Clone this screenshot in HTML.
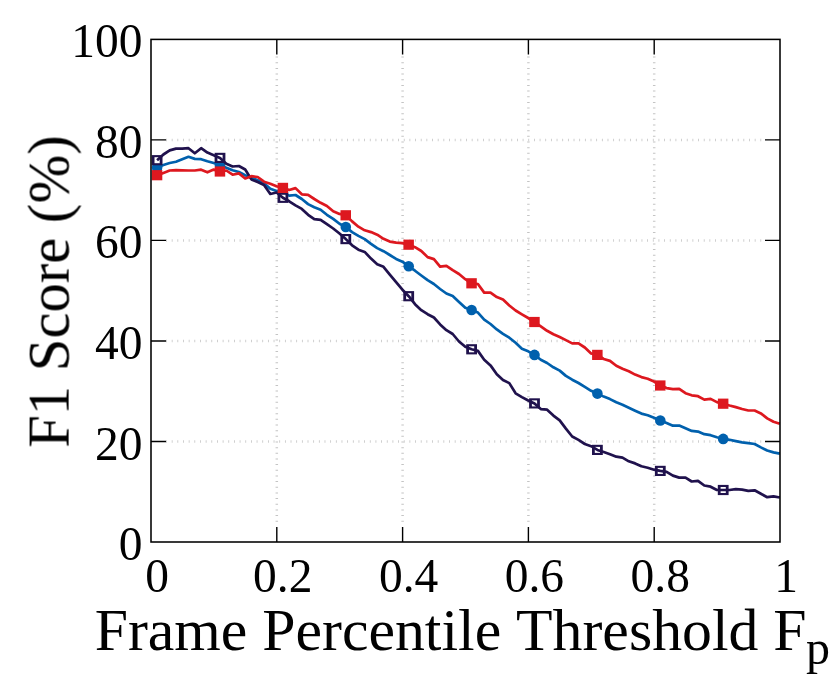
<!DOCTYPE html>
<html><head><meta charset="utf-8"><title>F1 Score vs Frame Percentile Threshold</title>
<style>
html,body{margin:0;padding:0;background:#fff;}
body{width:830px;height:700px;overflow:hidden;position:relative;font-family:"Liberation Serif",serif;}
</style></head><body>
<svg width="830" height="700" viewBox="0 0 830 700" style="position:absolute;left:0;top:0">
<rect width="830" height="700" fill="#fff"/>
<line x1="166.1" y1="441.5" x2="764.0" y2="441.5" stroke="#c4c4c4" stroke-width="2.5" stroke-dasharray="0.8 4.86"/>
<line x1="166.1" y1="341.0" x2="764.0" y2="341.0" stroke="#c4c4c4" stroke-width="2.5" stroke-dasharray="0.8 4.86"/>
<line x1="166.1" y1="240.4" x2="764.0" y2="240.4" stroke="#c4c4c4" stroke-width="2.5" stroke-dasharray="0.8 4.86"/>
<line x1="166.1" y1="139.9" x2="764.0" y2="139.9" stroke="#c4c4c4" stroke-width="2.5" stroke-dasharray="0.8 4.86"/>
<line x1="276.8" y1="56.6" x2="276.8" y2="526.0" stroke="#c4c4c4" stroke-width="2.5" stroke-dasharray="1 4.66"/>
<line x1="402.6" y1="56.6" x2="402.6" y2="526.0" stroke="#c4c4c4" stroke-width="2.5" stroke-dasharray="1 4.66"/>
<line x1="528.4" y1="56.6" x2="528.4" y2="526.0" stroke="#c4c4c4" stroke-width="2.5" stroke-dasharray="1 4.66"/>
<line x1="654.2" y1="56.6" x2="654.2" y2="526.0" stroke="#c4c4c4" stroke-width="2.5" stroke-dasharray="1 4.66"/>
<path d="M151.0,441.5h15M780.0,441.5h-15" stroke="#000" stroke-width="1.4"/>
<path d="M151.0,341.0h15M780.0,341.0h-15" stroke="#000" stroke-width="1.4"/>
<path d="M151.0,240.4h15M780.0,240.4h-15" stroke="#000" stroke-width="1.4"/>
<path d="M151.0,139.9h15M780.0,139.9h-15" stroke="#000" stroke-width="1.4"/>
<path d="M276.8,542.0v-15M276.8,39.4v15" stroke="#000" stroke-width="1.4"/>
<path d="M402.6,542.0v-15M402.6,39.4v15" stroke="#000" stroke-width="1.4"/>
<path d="M528.4,542.0v-15M528.4,39.4v15" stroke="#000" stroke-width="1.4"/>
<path d="M654.2,542.0v-15M654.2,39.4v15" stroke="#000" stroke-width="1.4"/>
<path d="M157.1,167.5 L163.4,165.0 L169.7,163.0 L176.0,161.7 L182.2,159.2 L188.5,156.8 L194.8,158.9 L201.1,159.2 L207.4,161.2 L213.7,163.0 L220.0,165.2 L226.3,167.7 L232.6,170.3 L238.9,172.0 L245.2,175.2 L251.4,177.8 L257.7,180.2 L264.0,183.3 L270.3,188.7 L276.6,190.9 L282.9,192.6 L289.2,195.6 L295.5,195.0 L301.8,199.0 L308.1,204.1 L314.3,207.2 L320.6,209.7 L326.9,214.8 L333.2,218.9 L339.5,223.8 L345.8,227.0 L352.1,232.1 L358.4,235.9 L364.7,239.1 L371.0,243.8 L377.2,248.1 L383.5,251.2 L389.8,255.0 L396.1,258.9 L402.4,261.7 L408.7,266.3 L415.0,270.7 L421.3,275.5 L427.6,280.2 L433.9,284.0 L440.1,289.0 L446.4,293.5 L452.7,296.0 L459.0,301.9 L465.3,307.7 L471.6,310.0 L477.9,312.6 L484.2,319.7 L490.5,324.0 L496.8,329.4 L503.0,333.8 L509.3,337.7 L515.6,342.8 L521.9,348.8 L528.2,351.3 L534.5,354.9 L540.8,359.8 L547.1,363.0 L553.4,367.3 L559.7,370.6 L565.9,375.9 L572.2,379.7 L578.5,383.0 L584.8,386.9 L591.1,390.8 L597.4,393.6 L603.7,396.6 L610.0,399.1 L616.3,402.3 L622.5,404.8 L628.8,407.7 L635.1,410.7 L641.4,413.6 L647.7,415.2 L654.0,417.7 L660.3,420.5 L666.6,423.0 L672.9,425.7 L679.2,425.5 L685.5,428.3 L691.7,430.9 L698.0,431.6 L704.3,434.2 L710.6,435.2 L716.9,437.3 L723.2,438.9 L729.5,439.8 L735.8,441.1 L742.1,442.3 L748.3,443.2 L754.6,444.0 L760.9,447.4 L767.2,450.5 L773.5,452.4 L779.8,453.6" fill="none" stroke="#0060ad" stroke-width="2.7" stroke-linejoin="round"/>
<circle cx="157.1" cy="167.5" r="5.3" fill="#0060ad"/>
<circle cx="220.0" cy="165.2" r="5.3" fill="#0060ad"/>
<circle cx="282.9" cy="192.6" r="5.3" fill="#0060ad"/>
<circle cx="345.8" cy="227.0" r="5.3" fill="#0060ad"/>
<circle cx="408.7" cy="266.3" r="5.3" fill="#0060ad"/>
<circle cx="471.6" cy="310.0" r="5.3" fill="#0060ad"/>
<circle cx="534.5" cy="354.9" r="5.3" fill="#0060ad"/>
<circle cx="597.4" cy="393.6" r="5.3" fill="#0060ad"/>
<circle cx="660.3" cy="420.5" r="5.3" fill="#0060ad"/>
<circle cx="723.2" cy="438.9" r="5.3" fill="#0060ad"/>
<rect x="151.7" y="155.1" width="10.8" height="10.2" fill="#20124d"/><rect x="154.5" y="157.2" width="5.2" height="6" fill="#fff"/>
<rect x="214.6" y="152.8" width="10.8" height="10.2" fill="#20124d"/><rect x="217.4" y="154.9" width="5.2" height="6" fill="#fff"/>
<rect x="277.5" y="192.7" width="10.8" height="10.2" fill="#20124d"/><rect x="280.3" y="194.8" width="5.2" height="6" fill="#fff"/>
<rect x="340.4" y="234.0" width="10.8" height="10.2" fill="#20124d"/><rect x="343.2" y="236.1" width="5.2" height="6" fill="#fff"/>
<rect x="403.3" y="291.1" width="10.8" height="10.2" fill="#20124d"/><rect x="406.1" y="293.2" width="5.2" height="6" fill="#fff"/>
<rect x="466.2" y="344.2" width="10.8" height="10.2" fill="#20124d"/><rect x="469.0" y="346.3" width="5.2" height="6" fill="#fff"/>
<rect x="529.1" y="398.3" width="10.8" height="10.2" fill="#20124d"/><rect x="531.9" y="400.4" width="5.2" height="6" fill="#fff"/>
<rect x="592.0" y="444.8" width="10.8" height="10.2" fill="#20124d"/><rect x="594.8" y="446.9" width="5.2" height="6" fill="#fff"/>
<rect x="654.9" y="465.8" width="10.8" height="10.2" fill="#20124d"/><rect x="657.7" y="467.9" width="5.2" height="6" fill="#fff"/>
<rect x="717.8" y="484.9" width="10.8" height="10.2" fill="#20124d"/><rect x="720.6" y="487.0" width="5.2" height="6" fill="#fff"/>
<path d="M157.1,160.2 L163.4,154.5 L169.7,150.4 L176.0,148.6 L182.2,148.6 L188.5,148.2 L194.8,153.3 L201.1,148.2 L207.4,152.6 L213.7,155.2 L220.0,157.9 L226.3,163.7 L232.6,166.5 L238.9,166.0 L245.2,169.5 L251.4,179.4 L257.7,182.1 L264.0,185.0 L270.3,194.0 L276.6,192.5 L282.9,197.8 L289.2,201.3 L295.5,205.3 L301.8,208.9 L308.1,214.8 L314.3,219.2 L320.6,219.8 L326.9,224.2 L333.2,228.5 L339.5,233.5 L345.8,239.1 L352.1,245.3 L358.4,249.7 L364.7,251.9 L371.0,258.6 L377.2,264.2 L383.5,266.8 L389.8,274.6 L396.1,282.1 L402.4,289.7 L408.7,296.2 L415.0,304.2 L421.3,310.2 L427.6,314.2 L433.9,317.5 L440.1,324.4 L446.4,330.2 L452.7,334.0 L459.0,341.5 L465.3,346.8 L471.6,349.3 L477.9,350.9 L484.2,359.7 L490.5,365.4 L496.8,374.2 L503.0,380.0 L509.3,383.1 L515.6,393.3 L521.9,397.1 L528.2,400.5 L534.5,403.4 L540.8,409.1 L547.1,409.7 L553.4,415.6 L559.7,420.4 L565.9,428.6 L572.2,436.5 L578.5,439.9 L584.8,444.0 L591.1,446.2 L597.4,449.9 L603.7,452.1 L610.0,454.2 L616.3,456.7 L622.5,457.7 L628.8,461.3 L635.1,463.4 L641.4,466.3 L647.7,467.8 L654.0,469.7 L660.3,470.9 L666.6,471.8 L672.9,475.6 L679.2,477.6 L685.5,477.6 L691.7,481.5 L698.0,480.8 L704.3,485.5 L710.6,486.7 L716.9,490.0 L723.2,490.0 L729.5,490.0 L735.8,489.2 L742.1,489.6 L748.3,490.9 L754.6,490.3 L760.9,493.8 L767.2,497.2 L773.5,496.3 L779.8,497.5" fill="none" stroke="#20124d" stroke-width="2.7" stroke-linejoin="round"/>
<path d="M157.1,175.2 L163.4,172.9 L169.7,170.5 L176.0,170.2 L182.2,170.3 L188.5,170.5 L194.8,170.5 L201.1,169.7 L207.4,172.3 L213.7,169.6 L220.0,171.5 L226.3,170.5 L232.6,174.7 L238.9,173.4 L245.2,178.5 L251.4,176.2 L257.7,177.0 L264.0,181.7 L270.3,183.7 L276.6,186.2 L282.9,187.9 L289.2,190.0 L295.5,188.1 L301.8,194.3 L308.1,194.9 L314.3,199.0 L320.6,202.8 L326.9,206.0 L333.2,211.2 L339.5,213.9 L345.8,215.3 L352.1,221.4 L358.4,226.7 L364.7,230.3 L371.0,232.1 L377.2,234.7 L383.5,238.8 L389.8,241.6 L396.1,242.6 L402.4,243.1 L408.7,244.7 L415.0,247.2 L421.3,251.0 L427.6,257.1 L433.9,259.1 L440.1,266.7 L446.4,265.8 L452.7,270.2 L459.0,274.0 L465.3,279.2 L471.6,283.3 L477.9,284.0 L484.2,292.6 L490.5,292.7 L496.8,297.1 L503.0,299.6 L509.3,305.5 L515.6,310.5 L521.9,314.3 L528.2,318.0 L534.5,322.0 L540.8,326.3 L547.1,330.8 L553.4,334.2 L559.7,337.0 L565.9,340.1 L572.2,343.4 L578.5,343.4 L584.8,347.5 L591.1,353.5 L597.4,354.9 L603.7,359.0 L610.0,360.9 L616.3,365.8 L622.5,368.7 L628.8,371.3 L635.1,374.6 L641.4,377.1 L647.7,378.7 L654.0,381.5 L660.3,385.5 L666.6,388.1 L672.9,389.1 L679.2,388.8 L685.5,393.2 L691.7,395.3 L698.0,396.2 L704.3,399.6 L710.6,398.9 L716.9,402.1 L723.2,403.7 L729.5,405.5 L735.8,407.1 L742.1,409.0 L748.3,410.5 L754.6,410.5 L760.9,413.4 L767.2,418.4 L773.5,421.8 L779.8,423.8" fill="none" stroke="#dd181f" stroke-width="2.7" stroke-linejoin="round"/>
<rect x="151.8" y="170.1" width="10.5" height="10.2" fill="#dd181f"/>
<rect x="214.7" y="166.4" width="10.5" height="10.2" fill="#dd181f"/>
<rect x="277.6" y="182.8" width="10.5" height="10.2" fill="#dd181f"/>
<rect x="340.5" y="210.2" width="10.5" height="10.2" fill="#dd181f"/>
<rect x="403.4" y="239.6" width="10.5" height="10.2" fill="#dd181f"/>
<rect x="466.3" y="278.2" width="10.5" height="10.2" fill="#dd181f"/>
<rect x="529.2" y="316.9" width="10.5" height="10.2" fill="#dd181f"/>
<rect x="592.1" y="349.8" width="10.5" height="10.2" fill="#dd181f"/>
<rect x="655.0" y="380.4" width="10.5" height="10.2" fill="#dd181f"/>
<rect x="717.9" y="398.6" width="10.5" height="10.2" fill="#dd181f"/>
<rect x="151.0" y="39.4" width="629.0" height="502.6" fill="none" stroke="#000" stroke-width="1.55"/>
<g style="opacity:0.999">
<text transform="translate(142.5,560.0) scale(1,1.035)" font-family="Liberation Serif, serif" font-size="47.5" text-anchor="end">0</text>
<text transform="translate(142.5,459.5) scale(1,1.035)" font-family="Liberation Serif, serif" font-size="47.5" text-anchor="end">20</text>
<text transform="translate(142.5,359.0) scale(1,1.035)" font-family="Liberation Serif, serif" font-size="47.5" text-anchor="end">40</text>
<text transform="translate(142.5,258.4) scale(1,1.035)" font-family="Liberation Serif, serif" font-size="47.5" text-anchor="end">60</text>
<text transform="translate(142.5,157.9) scale(1,1.035)" font-family="Liberation Serif, serif" font-size="47.5" text-anchor="end">80</text>
<text transform="translate(142.5,57.4) scale(1,1.035)" font-family="Liberation Serif, serif" font-size="47.5" text-anchor="end">100</text>
<text transform="translate(157.0,591.5) scale(1,1.035)" font-family="Liberation Serif, serif" font-size="47.5" text-anchor="middle">0</text>
<text transform="translate(282.8,591.5) scale(1,1.035)" font-family="Liberation Serif, serif" font-size="47.5" text-anchor="middle">0.2</text>
<text transform="translate(408.6,591.5) scale(1,1.035)" font-family="Liberation Serif, serif" font-size="47.5" text-anchor="middle">0.4</text>
<text transform="translate(534.4,591.5) scale(1,1.035)" font-family="Liberation Serif, serif" font-size="47.5" text-anchor="middle">0.6</text>
<text transform="translate(660.2,591.5) scale(1,1.035)" font-family="Liberation Serif, serif" font-size="47.5" text-anchor="middle">0.8</text>
<text transform="translate(786.0,591.5) scale(1,1.035)" font-family="Liberation Serif, serif" font-size="47.5" text-anchor="middle">1</text>
<text x="94.7" y="650" font-family="Liberation Serif, serif" font-size="59.76" style="font-kerning:none">Frame Percentile Threshold F</text>
<text x="806" y="663.5" font-family="Liberation Serif, serif" font-size="48">p</text>
<text transform="translate(68.6,291.5) rotate(-90)" font-family="Liberation Serif, serif" font-size="58.6" text-anchor="middle">F1 Score (%)</text>
</g>
</svg>
</body></html>
